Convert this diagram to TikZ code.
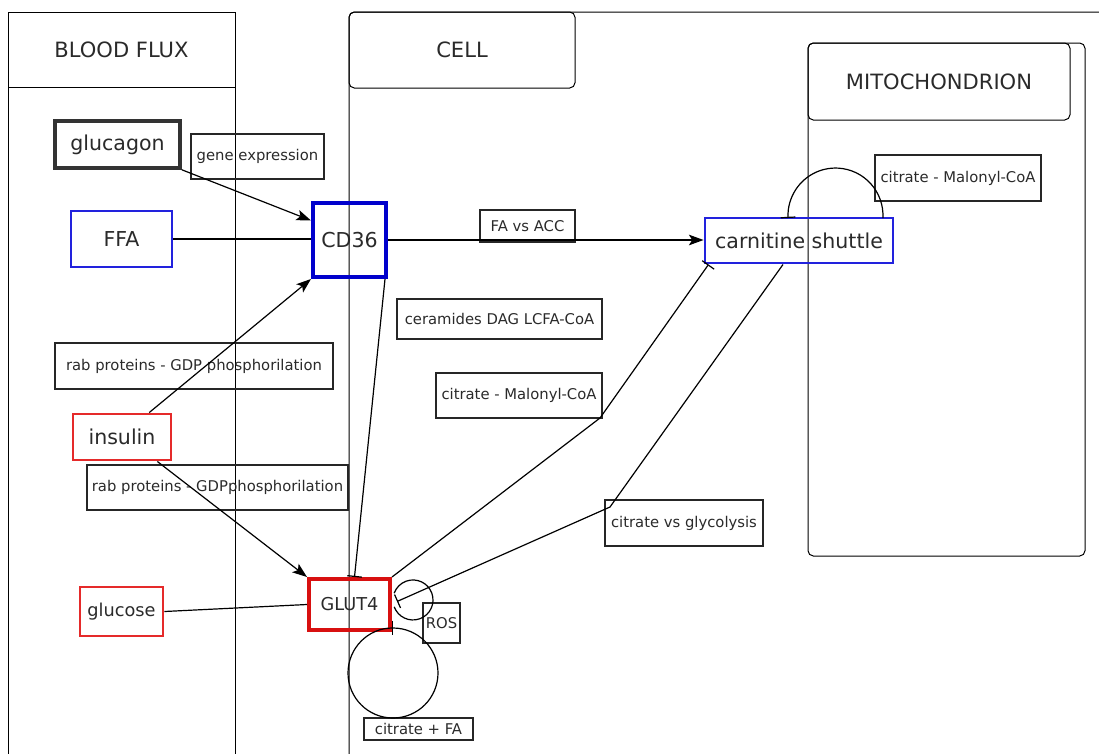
\documentclass[tikz,border=0pt]{standalone}
\usepackage{fontspec}
\setmainfont{DejaVu Sans}
\usetikzlibrary{arrows.meta,calc}
\definecolor{txt}{HTML}{2A2A2A}
\definecolor{bl}{HTML}{2222DD}
\definecolor{bldark}{HTML}{0000CC}
\definecolor{rd}{HTML}{E52A2A}
\definecolor{rddark}{HTML}{D81010}
\begin{document}
\begin{tikzpicture}[x=0.75pt,y=-0.75pt,
 every node/.style={text=txt},
 wh/.style 2 args={rectangle, inner sep=0pt, minimum width=#1*0.75pt, minimum height=#2*0.75pt},
 lab/.style={draw=black!85, line width=0.9pt, font=\fontsize{11.1}{13}\selectfont},
 big/.style={font=\fontsize{15.4}{18}\selectfont},
 mid/.style={font=\fontsize{13.3}{16}\selectfont},
 hdr/.style={font=\fontsize{15.8}{19}\selectfont},
 lane/.style={draw=black, line width=0.75pt},
 con/.style={draw=black, line width=0.9pt},
 arr/.style={con, -{Stealth[length=11pt,width=8pt,inset=2.5pt]}},
 inh/.style={con, -{Bar[width=11pt]}},
]
\useasboundingbox (0,0) rectangle (1099,753);
\clip (0,0) rectangle (1099,753);

% lanes
\draw[lane] (8,760) -- (8,12) -- (235,12) -- (235,760);
\node[wh={227}{75}, hdr, lane] (bloodhdr) at (121.5,49.5) {BLOOD FLUX};
\draw[lane, rounded corners=4pt] (349,760) -- (349,12) -- (1110,12);
\node[wh={226}{76}, hdr, lane, rounded corners=4pt] (cellhdr) at (462,50) {CELL};
\node[wh={277}{513}, lane, rounded corners=4pt] (mito) at (946.5,299.5) {};
\node[wh={262}{77}, hdr, lane, rounded corners=4pt] (mitohdr) at (939,81.5) {MITOCHONDRION};

% nodes
\node[wh={125}{47}, big, draw=black!80, line width=2.6pt] (glucagon) at (117.5,144.5) {glucagon};
\node[wh={133}{45}, lab] (geneexp) at (257.5,156.5) {gene expression};
\node[wh={101}{56}, big, draw=bl, line width=2.2pt] (FFA) at (121.5,239) {FFA};
\node[wh={73}{74}, big, draw=bldark, line width=3pt] (CD36) at (349.5,240) {CD36};
\node[wh={95}{32}, lab] (faacc) at (527.5,226) {FA vs ACC};
\node[wh={188}{45}, big, draw=bl, line width=2.2pt] (carn) at (799,240.5) {carnitine shuttle};
\node[wh={166}{46}, lab] (citmalmito) at (958,178) {citrate - Malonyl-CoA};
\node[wh={205}{40}, lab] (ceram) at (499.5,319) {ceramides DAG LCFA-CoA};
\node[wh={278}{46}, lab] (rab1) at (194,366) {rab proteins - GDP phosphorilation};
\node[wh={166}{45}, lab] (citmal) at (519,395.5) {citrate - Malonyl-CoA};
\node[wh={98}{46}, big, draw=rd, line width=2.2pt] (insulin) at (122,437) {insulin};
\node[wh={261}{45}, lab] (rab2) at (217.5,487.5) {rab proteins - GDPphosphorilation};
\node[wh={158}{46}, lab] (citgly) at (684,523) {citrate vs glycolysis};
\node[wh={83}{49}, mid, draw=rd, line width=2.2pt] (glucose) at (121.5,611.5) {glucose};
\node[wh={81}{51}, mid, draw=rddark, line width=3pt] (GLUT4) at (349.5,604.5) {GLUT4};
\node[wh={37}{40}, lab] (ROS) at (441.5,623) {ROS};
\node[wh={109}{22}, lab] (citfa) at (418.5,729) {citrate + FA};

% connectors
\draw[arr] (glucagon.south east) -- ($(CD36.north west)!0.25!(CD36.south west)$);
\draw[con] (FFA.east) -- (FFA.east -| CD36.west);
\draw[arr] ($(insulin.north west)!0.77!(insulin.north east)$) -- (CD36.south west);
\draw[arr] ($(insulin.south west)!0.85!(insulin.south east)$) -- (GLUT4.north west);
\draw[con] (glucose.east) -- (GLUT4.west);
\draw[arr] (CD36.east) -- (CD36.east -| carn.west);
\draw[inh] ($(CD36.south east)+(-3,0)$) -- ($(GLUT4.north)+(5,0)$);
\coordinate (b1) at (600,418);
\draw[inh] (GLUT4.north east) -- (b1) -- ($(carn.south west)+(5,0)$);
\coordinate (b2) at (610,507);
\draw[inh] ($(carn.south)+(-16,0)$) -- (b2) -- ($(GLUT4.east)+(5,-3)$);

% loops
\draw[con] (394.2,606.8) arc[start angle=200, end angle=520, radius=15pt];
\draw[inh] (393,628) arc[start angle=90, end angle=-270, radius=33.75pt];
\draw[inh] (882.9,218) arc[start angle=-3, end angle=183, radius=35.6pt];
\end{tikzpicture}
\end{document}
